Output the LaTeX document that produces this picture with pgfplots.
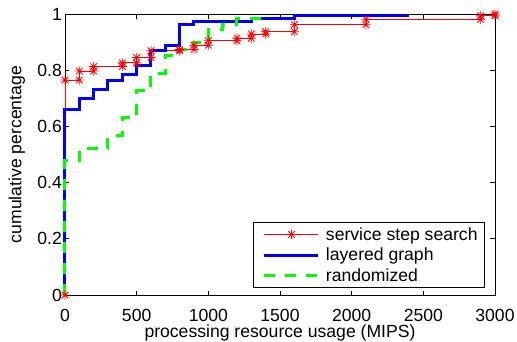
\documentclass[border=0pt]{standalone}
\usepackage{fontspec}
\setmainfont{Liberation Sans}
\usepackage{pgfplots}
\pgfplotsset{compat=1.18}

\pgfdeclareplotmark{mstar}{%
  \pgfpathmoveto{\pgfpoint{-\pgfplotmarksize}{0pt}}%
  \pgfpathlineto{\pgfpoint{\pgfplotmarksize}{0pt}}%
  \pgfpathmoveto{\pgfpoint{0pt}{-\pgfplotmarksize}}%
  \pgfpathlineto{\pgfpoint{0pt}{\pgfplotmarksize}}%
  \pgfpathmoveto{\pgfpoint{-0.707\pgfplotmarksize}{-0.707\pgfplotmarksize}}%
  \pgfpathlineto{\pgfpoint{0.707\pgfplotmarksize}{0.707\pgfplotmarksize}}%
  \pgfpathmoveto{\pgfpoint{-0.707\pgfplotmarksize}{0.707\pgfplotmarksize}}%
  \pgfpathlineto{\pgfpoint{0.707\pgfplotmarksize}{-0.707\pgfplotmarksize}}%
  \pgfusepathqstroke}

\definecolor{mred}{rgb}{1,0,0}
\definecolor{mblue}{rgb}{0,0,1}
\definecolor{mgreen}{rgb}{0,1,0}

\begin{document}
\begin{tikzpicture}
\begin{axis}[
  scale only axis, width=430pt, height=281pt,
  xmin=0, xmax=3000, ymin=0, ymax=1,
  xtick={0,500,1000,1500,2000,2500,3000},
  ytick={0,0.2,0.4,0.6,0.8,1},
  tick align=inside, tick pos=both,
  major tick length=4.5pt,
  axis line style={line width=0.8pt, black},
  every tick/.style={black, line width=0.8pt},
  font=\fontsize{17.6}{21}\selectfont,
  /pgf/number format/assume math mode=true,
  /pgf/number format/1000 sep={},
  scaled ticks=false,
  clip=false,
  xticklabel style={anchor=base, inner sep=0pt, yshift=-26pt},
  yticklabel style={anchor=east, inner sep=0pt, xshift=-3pt},
  xlabel={processing resource usage (MIPS)},
  ylabel={cumulative percentage},
  xlabel style={at={(axis description cs:0.5,-0.1512)}, anchor=base, inner sep=0pt},
  ylabel style={at={(axis description cs:-0.1016,0.5)}, anchor=base, inner sep=0pt},
  legend image code/.code={\path (0pt,0pt); \draw[mark repeat=2,mark phase=2,#1] plot coordinates {(3pt,0pt) (30pt,0pt) (57pt,0pt)};},
  legend style={at={(axis description cs:0.97674,0.02491)}, anchor=south east,
    draw=black, line width=0.8pt, fill=white,
    inner xsep=7pt, inner ysep=4.5pt, row sep=6.5pt, column sep=6pt,
    nodes={inner sep=0pt},
    font=\fontsize{17.6}{21}\selectfont},
  legend cell align=left,
]
\addplot[color=mred, line width=0.8pt, mark=mstar, mark size=4.7pt, mark options={solid, line width=0.8pt}] coordinates {
(0,0) (0,0.765) (100,0.765) (100,0.797) (200,0.797) (200,0.813) (400,0.813) (400,0.826)
(500,0.826) (500,0.845) (600,0.845) (600,0.869) (800,0.869) (800,0.874) (900,0.874) (900,0.889)
(1000,0.889) (1000,0.905) (1200,0.905) (1200,0.914) (1300,0.914) (1300,0.929) (1400,0.929) (1400,0.937)
(1600,0.937) (1600,0.962) (2100,0.962) (2100,0.981) (2900,0.981) (2900,0.994) (3000,0.994) (3000,1)
};
\addlegendentry{service step search}
\addplot[color=mblue, line width=3pt, no marks] coordinates {
(0,0) (0,0.661) (100,0.661) (100,0.699) (200,0.699) (200,0.732) (300,0.732) (300,0.765)
(400,0.765) (400,0.783) (500,0.783) (500,0.815) (600,0.815) (600,0.869) (700,0.869) (700,0.889)
(800,0.889) (800,0.964) (900,0.964) (900,0.975) (1300,0.975) (1300,0.985) (1600,0.985) (1600,0.993) (2400,0.993)
};
\addlegendentry{layered graph}
\addplot[color=mgreen, line width=3pt, no marks, dash pattern=on 11pt off 10pt] coordinates {
(0,0) (0,0.478) (100,0.478) (100,0.521) (300,0.521) (300,0.567) (400,0.567) (400,0.631)
(500,0.631) (500,0.726) (600,0.726) (600,0.79) (700,0.79) (700,0.851) (800,0.851) (800,0.875)
(900,0.875) (900,0.9) (1000,0.9) (1000,0.944) (1100,0.944) (1100,0.964) (1200,0.964) (1200,0.985)
(1400,0.985) (1400,1)
};
\addlegendentry{randomized}
\end{axis}
\pgfresetboundingbox
\path[use as bounding box] (-65pt,-46pt) rectangle (452pt,295pt);
\end{tikzpicture}
\end{document}
